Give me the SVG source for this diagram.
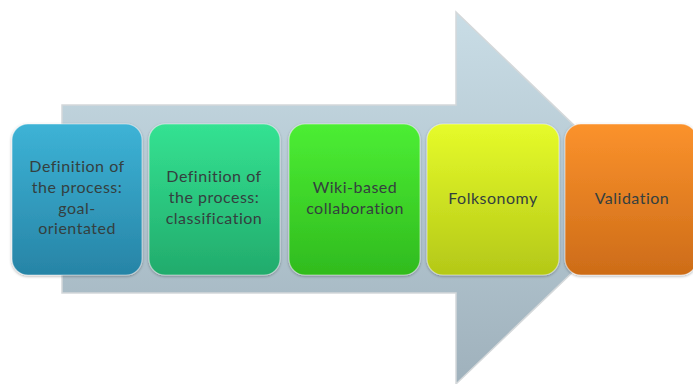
<svg xmlns="http://www.w3.org/2000/svg" width="693" height="384" viewBox="0 0 693 384">
<defs>
<linearGradient id="ga" x1="0" y1="0" x2="0" y2="1"><stop offset="0" stop-color="#c9dde6"/><stop offset="1" stop-color="#9fb1bc"/></linearGradient>
<linearGradient id="g1" x1="0" y1="0" x2="0" y2="1"><stop offset="0" stop-color="#3db3d6"/><stop offset="1" stop-color="#2784a6"/></linearGradient>
<linearGradient id="g2" x1="0" y1="0" x2="0" y2="1"><stop offset="0" stop-color="#34e292"/><stop offset="1" stop-color="#22ab6c"/></linearGradient>
<linearGradient id="g3" x1="0" y1="0" x2="0" y2="1"><stop offset="0" stop-color="#4cee34"/><stop offset="1" stop-color="#30bb1e"/></linearGradient>
<linearGradient id="g4" x1="0" y1="0" x2="0" y2="1"><stop offset="0" stop-color="#e6fb2a"/><stop offset="1" stop-color="#b4c818"/></linearGradient>
<linearGradient id="g5" x1="0" y1="0" x2="0" y2="1"><stop offset="0" stop-color="#fb922c"/><stop offset="1" stop-color="#cd6c18"/></linearGradient>
<filter id="sh" x="-10%" y="-10%" width="120%" height="120%"><feGaussianBlur in="SourceAlpha" stdDeviation="1.5"/><feOffset dy="1"/><feComponentTransfer><feFuncA type="linear" slope="0.35"/></feComponentTransfer><feMerge><feMergeNode/><feMergeNode in="SourceGraphic"/></feMerge></filter>
</defs>
<style>
.box{stroke:#ffffff;stroke-opacity:0.45;stroke-width:1.2;filter:url(#sh)}
.t{font-family:Lato,"Open Sans","Liberation Sans",sans-serif;font-size:16px;letter-spacing:0.5px;fill:#34403f;text-anchor:middle}
</style>
<g id="arrow">
<path d="M62,105 L456,105 L456,12 L650,198 L456,384 L456,293 L62,293 Z" fill="url(#ga)" stroke="#d4d8da" stroke-width="1.5"/>
</g>
<g id="connectors"/>
<g id="n1"><rect class="box" x="12" y="124" width="130" height="151" rx="16" fill="url(#g1)"/>
<text class="t" x="77" y="172">Definition of</text><text class="t" x="77" y="193">the process:</text><text class="t" x="77" y="214">goal-</text><text class="t" x="77" y="234">orientated</text></g>
<g id="n2"><rect class="box" x="149" y="124" width="131" height="151" rx="16" fill="url(#g2)"/>
<text class="t" x="214" y="182">Definition of</text><text class="t" x="214" y="203">the process:</text><text class="t" x="214" y="224">classification</text></g>
<g id="n3"><rect class="box" x="289" y="124" width="131" height="151" rx="16" fill="url(#g3)"/>
<text class="t" x="355" y="193">Wiki-based</text><text class="t" x="355" y="214">collaboration</text></g>
<g id="n4"><rect class="box" x="427" y="124" width="132" height="151" rx="16" fill="url(#g4)"/>
<text class="t" x="493" y="204">Folksonomy</text></g>
<g id="n5"><rect class="box" x="565" y="124" width="132" height="151" rx="16" fill="url(#g5)"/>
<text class="t" x="632" y="204">Validation</text></g>
</svg>
